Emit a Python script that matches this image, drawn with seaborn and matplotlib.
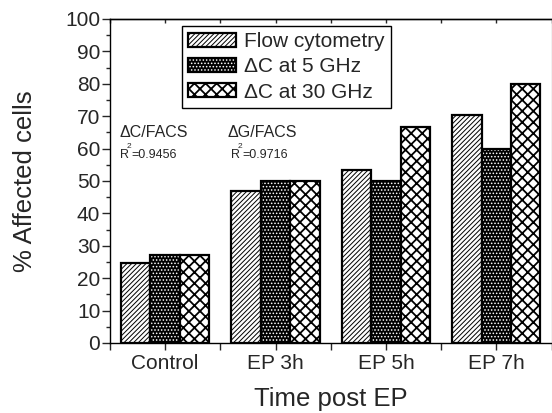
import matplotlib
matplotlib.use("Agg")
import matplotlib.pyplot as plt
import seaborn as sns
import pandas as pd
from matplotlib.patches import Patch

categories = ["Control", "EP 3h", "EP 5h", "EP 7h"]
series = ["Flow cytometry", "\u0394C at 5 GHz", "\u0394C at 30 GHz"]
flow = [24.8, 47.0, 53.5, 70.3]
dc5 = [27.3, 50.0, 50.0, 60.0]
dc30 = [27.3, 50.0, 66.8, 80.0]
yticks = [0, 10, 20, 30, 40, 50, 60, 70, 80, 90, 100]

sns.set_style("ticks")
plt.rcParams['font.family'] = ['Liberation Sans', 'DejaVu Sans']
plt.rcParams['hatch.linewidth'] = 1.0

rows = []
for s, vals in zip(series, [flow, dc5, dc30]):
    for c, v in zip(categories, vals):
        rows.append({"time": c, "val": v, "series": s})
df = pd.DataFrame(rows)

fig = plt.figure(figsize=(5.52, 4.13), dpi=100)
ax = fig.add_axes([110 / 552, 70 / 413, 441.5 / 552, 324 / 413])

sns.barplot(data=df, x="time", y="val", hue="series", order=categories,
            hue_order=series, palette=["white"] * 3, width=0.8,
            edgecolor="black", linewidth=1.6, ax=ax, legend=False, saturation=1)

hatches = ["///////", ".....", "xxx"]
faces = ["white", "black", "white"]
hlw = [0.7, 0.7, 1.3]


def style(p, g):
    p.set_hatch(hatches[g])
    p.set_facecolor(faces[g])
    p.set_edgecolor("black")
    p._hatch_color = (1, 1, 1, 1) if g == 1 else (0, 0, 0, 1)
    if hasattr(p, "_hatch_linewidth"):
        p._hatch_linewidth = hlw[g]


for i, p in enumerate(ax.patches):
    style(p, i // len(categories))

ax.set_xlim(-0.5, 3.5)
ax.set_ylim(0, 100)
ax.set_yticks(yticks)
ax.set_yticks(range(5, 100, 10), minor=True)
ax.set_xticks(range(len(categories)))
ax.set_xticklabels(categories)
ax.set_xticks([-0.5, 0.5, 1.5, 2.5, 3.5], minor=True)
ax.tick_params(axis="x", which="both", length=5, width=1, direction="out",
               labelsize=15, pad=3)
ax.tick_params(axis="y", which="major", length=6, width=1, labelsize=15, pad=1)
ax.tick_params(axis="y", which="minor", length=3, width=1)
for name, sp in ax.spines.items():
    sp.set_visible(True)
    sp.set_linewidth(1.0)
    sp.set_color("black")
ax.spines["right"].set_color("#bbbbbb")

top = ax.secondary_xaxis("top")
top.set_xticks([-0.5, 0, 0.5, 1, 1.5, 2, 2.5, 3, 3.5])
top.tick_params(direction="in", length=3, width=1, labeltop=False)
top.spines["top"].set_linewidth(1.0)

ax.set_xlabel("Time post EP", fontsize=18.5, labelpad=10)
ax.set_ylabel("% Affected cells", fontsize=18.5, labelpad=20)

handles = []
for h, f, s in zip(hatches, faces, series):
    handles.append(Patch(facecolor=f, edgecolor="black", hatch=h, linewidth=1.6, label=s))
leg = ax.legend(handles=handles, loc="upper left",
                bbox_to_anchor=((182 - 110) / 441.5, (343 - 26) / 324),
                fontsize=15, frameon=True, fancybox=False, edgecolor="black",
                framealpha=1, handlelength=2.3, handleheight=0.65, handletextpad=0.4,
                borderpad=0.3, labelspacing=0.3, borderaxespad=0)
leg.get_frame().set_linewidth(1.0)
for i, p in enumerate(leg.legend_handles):
    style(p, i)

ax.text(-0.41, 63.5, "\u0394C/FACS", fontsize=11.5)
ax.text(0.567, 63.5, "\u0394G/FACS", fontsize=11.5)
ax.text(-0.41, 57.1, "R", fontsize=9)
ax.text(-0.35, 60.2, "2", fontsize=6)
ax.text(-0.31, 57.1, "=0.9456", fontsize=9)
ax.text(0.60, 57.1, "R", fontsize=9)
ax.text(0.66, 60.2, "2", fontsize=6)
ax.text(0.70, 57.1, "=0.9716", fontsize=9)

fig.savefig("out.png", dpi=100)
